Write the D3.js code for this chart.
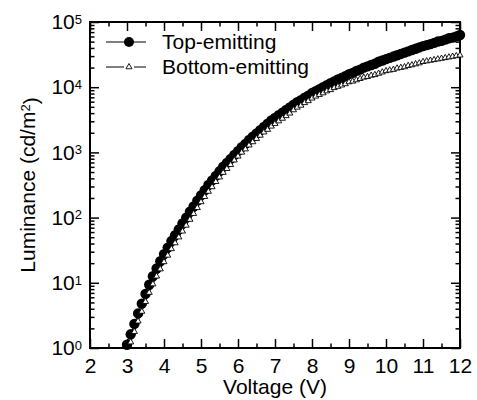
<!DOCTYPE html>
<html><head><meta charset="utf-8">
<script src="https://cdn.jsdelivr.net/npm/d3@7"></script>
<style>
body{margin:0;background:#fff}
svg{display:block}
text{font-family:"Liberation Sans",Arial,sans-serif;fill:#000}
</style>
</head><body>
<svg id="chart" width="477" height="400"></svg>
<script>
// ---- data ----
const voltageTop = [3.0,3.1,3.2,3.3,3.4,3.5,3.6,3.7,3.8,3.9,4.0,4.1,4.2,4.3,4.4,4.5,4.6,4.7,4.8,4.9,
  5.0,5.1,5.2,5.3,5.4,5.5,5.6,5.7,5.8,5.9,6.0,6.1,6.2,6.3,6.4,6.5,6.6,6.7,6.8,6.9,
  7.0,7.1,7.2,7.3,7.4,7.5,7.6,7.7,7.8,7.9,8.0,8.1,8.2,8.3,8.4,8.5,8.6,8.7,8.8,8.9,
  9.0,9.1,9.2,9.3,9.4,9.5,9.6,9.7,9.8,9.9,10.0,10.1,10.2,10.3,10.4,10.5,10.6,10.7,10.8,10.9,
  11.0,11.1,11.2,11.3,11.4,11.5,11.6,11.7,11.8,11.9,12.0];
// log10 of luminance (cd/m^2), top-emitting
const topEmittingLog10 = [0.05,0.21,0.37,0.53,0.68,0.83,0.97,1.10,1.22,1.33,1.44,1.54,1.64,1.73,1.82,1.91,2.00,2.09,2.17,2.26,
  2.34,2.42,2.50,2.57,2.64,2.71,2.78,2.84,2.90,2.96,3.02,3.08,3.13,3.19,3.24,3.29,3.34,3.39,3.44,3.49,
  3.53,3.57,3.61,3.65,3.69,3.73,3.77,3.80,3.84,3.87,3.91,3.94,3.97,4.00,4.03,4.06,4.09,4.12,4.14,4.17,
  4.20,4.22,4.25,4.27,4.30,4.32,4.34,4.36,4.39,4.41,4.43,4.45,4.47,4.49,4.51,4.53,4.55,4.57,4.59,4.61,
  4.63,4.645,4.66,4.68,4.70,4.71,4.73,4.75,4.76,4.78,4.80];
const voltageBottom = [3.1,3.2,3.3,3.4,3.5,3.6,3.7,3.8,3.9,4.0,4.1,4.2,4.3,4.4,4.5,4.6,4.7,4.8,4.9,
  5.0,5.1,5.2,5.3,5.4,5.5,5.6,5.7,5.8,5.9,6.0,6.1,6.2,6.3,6.4,6.5,6.6,6.7,6.8,6.9,
  7.0,7.1,7.2,7.3,7.4,7.5,7.6,7.7,7.8,7.9,8.0,8.1,8.2,8.3,8.4,8.5,8.6,8.7,8.8,8.9,
  9.0,9.1,9.2,9.3,9.4,9.5,9.6,9.7,9.8,9.9,10.0,10.1,10.2,10.3,10.4,10.5,10.6,10.7,10.8,10.9,
  11.0,11.1,11.2,11.3,11.4,11.5,11.6,11.7,11.8,11.9,12.0];
// log10 of luminance (cd/m^2), bottom-emitting
const bottomEmittingLog10 = [0.09,0.25,0.41,0.56,0.71,0.85,0.98,1.10,1.21,1.32,1.42,1.52,1.61,1.70,1.79,1.88,1.97,2.06,2.15,
  2.24,2.32,2.40,2.47,2.55,2.62,2.69,2.75,2.81,2.88,2.94,3.00,3.05,3.11,3.16,3.21,3.26,3.31,3.35,3.40,
  3.44,3.48,3.52,3.56,3.60,3.65,3.69,3.72,3.76,3.79,3.83,3.86,3.885,3.91,3.94,3.96,3.99,4.01,4.03,4.05,
  4.08,4.09,4.11,4.13,4.15,4.16,4.18,4.19,4.21,4.23,4.25,4.26,4.27,4.29,4.30,4.31,4.33,4.34,4.355,4.37,
  4.39,4.40,4.41,4.42,4.43,4.44,4.45,4.46,4.47,4.48,4.49];
const xMajorTicks = [2,3,4,5,6,7,8,9,10,11,12];
const xMinorTicks = [2.5,3.5,4.5,5.5,6.5,7.5,8.5,9.5,10.5,11.5];
const yMajorTicks = [1,10,100,1000,10000,100000];
const yTickExponents = ["0","1","2","3","4","5"];
const seriesNames = ["Top-emitting","Bottom-emitting"];
const xTitle = "Voltage (V)";

// ---- layout ----
const svg = d3.select("#chart");
const L = 90, R = 460, T = 22, B = 348;
const FS = 21;
const x = d3.scaleLinear().domain([2,12]).range([L,R]);
const y = d3.scaleLog().domain([1,1e5]).range([B,T]);
const yMinor = y.ticks().filter(v => !yMajorTicks.includes(v));

const topData = voltageTop.map((v,i)=>({v, l: Math.pow(10, topEmittingLog10[i])}));
const botData = voltageBottom.map((v,i)=>({v, l: Math.pow(10, bottomEmittingLog10[i])}));

function styleAxis(g){
  g.select(".domain").remove();
  g.selectAll(".tick line").attr("stroke","#000").attr("stroke-width",1.5);
  g.selectAll(".tick text").style("font-size",FS+"px").attr("fill","#000").attr("font-family",null);
}

// bottom
svg.append("g").attr("transform",`translate(0,${B})`)
  .call(d3.axisBottom(x).tickValues(xMajorTicks).tickSizeInner(-9).tickSizeOuter(0).tickPadding(10).tickFormat(d3.format("d")))
  .call(styleAxis);
svg.append("g").attr("transform",`translate(0,${B})`)
  .call(d3.axisBottom(x).tickValues(xMinorTicks).tickSizeInner(-4.5).tickSizeOuter(0).tickFormat(""))
  .call(styleAxis);
// top
svg.append("g").attr("transform",`translate(0,${T})`)
  .call(d3.axisTop(x).tickValues(xMajorTicks).tickSizeInner(-9).tickSizeOuter(0).tickFormat(""))
  .call(styleAxis);
svg.append("g").attr("transform",`translate(0,${T})`)
  .call(d3.axisTop(x).tickValues(xMinorTicks).tickSizeInner(-4.5).tickSizeOuter(0).tickFormat(""))
  .call(styleAxis);
// left
const gl = svg.append("g").attr("transform",`translate(${L},0)`)
  .call(d3.axisLeft(y).tickValues(yMajorTicks).tickSizeInner(-9).tickSizeOuter(0).tickPadding(8).tickFormat(()=>""))
  .call(styleAxis);
gl.selectAll(".tick text").each(function(d,i){
  const t = d3.select(this);
  t.append("tspan").text("10");
  t.append("tspan").attr("dy","-0.42em").style("font-size","13px").text(yTickExponents[i]);
});
svg.append("g").attr("transform",`translate(${L},0)`)
  .call(d3.axisLeft(y).tickValues(yMinor).tickSizeInner(-4.5).tickSizeOuter(0).tickFormat(""))
  .call(styleAxis);
// right
svg.append("g").attr("transform",`translate(${R},0)`)
  .call(d3.axisRight(y).tickValues(yMajorTicks).tickSizeInner(-9).tickSizeOuter(0).tickFormat(""))
  .call(styleAxis);
svg.append("g").attr("transform",`translate(${R},0)`)
  .call(d3.axisRight(y).tickValues(yMinor).tickSizeInner(-4.5).tickSizeOuter(0).tickFormat(""))
  .call(styleAxis);

// frame
svg.append("rect").attr("x",L).attr("y",T).attr("width",R-L).attr("height",B-T)
  .attr("fill","none").attr("stroke","#000").attr("stroke-width",2);

// titles
svg.append("text").attr("x",(L+R)/2).attr("y",394).attr("text-anchor","middle")
  .style("font-size",FS+"px").text(xTitle);
const yt = svg.append("text").attr("transform",`translate(35,${(T+B)/2}) rotate(-90)`)
  .attr("text-anchor","middle").style("font-size",FS+"px");
yt.append("tspan").text("Luminance (cd/m");
yt.append("tspan").attr("dy","-0.42em").style("font-size","13px").text("2");
yt.append("tspan").attr("dy","0.42em").text(")");

// series
const line = d3.line().x(d=>x(d.v)).y(d=>y(d.l));
svg.append("path").datum(topData).attr("d",line).attr("fill","none").attr("stroke","#000").attr("stroke-width",1);
svg.append("path").datum(botData).attr("d",line).attr("fill","none").attr("stroke","#000").attr("stroke-width",1);
svg.append("g").selectAll("circle").data(topData).join("circle")
  .attr("cx",d=>x(d.v)).attr("cy",d=>y(d.l)).attr("r",5.2).attr("fill","#000");
const tri = d3.symbol().type(d3.symbolTriangle).size(16);
svg.append("g").selectAll("path").data(botData).join("path")
  .attr("transform",d=>`translate(${x(d.v)},${y(d.l)})`).attr("d",tri)
  .attr("fill","#fff").attr("stroke","#000").attr("stroke-width",0.9);

// legend
const lg = svg.append("g");
const rows = [{y:42, name:seriesNames[0], kind:"circle"},{y:67, name:seriesNames[1], kind:"tri"}];
rows.forEach(r=>{
  lg.append("line").attr("x1",106).attr("x2",146).attr("y1",r.y).attr("y2",r.y).attr("stroke","#000").attr("stroke-width",1);
  if(r.kind==="circle"){
    lg.append("circle").attr("cx",129).attr("cy",r.y).attr("r",5).attr("fill","#000");
  } else {
    lg.append("rect").attr("x",124).attr("y",r.y-5).attr("width",10).attr("height",10).attr("fill","#fff");
    lg.append("path").attr("transform",`translate(129,${r.y})`).attr("d",tri)
      .attr("fill","#fff").attr("stroke","#000").attr("stroke-width",0.9);
  }
  lg.append("text").attr("x",162).attr("y",r.y+7).style("font-size",FS+"px").text(r.name);
});
</script>
</body></html>
